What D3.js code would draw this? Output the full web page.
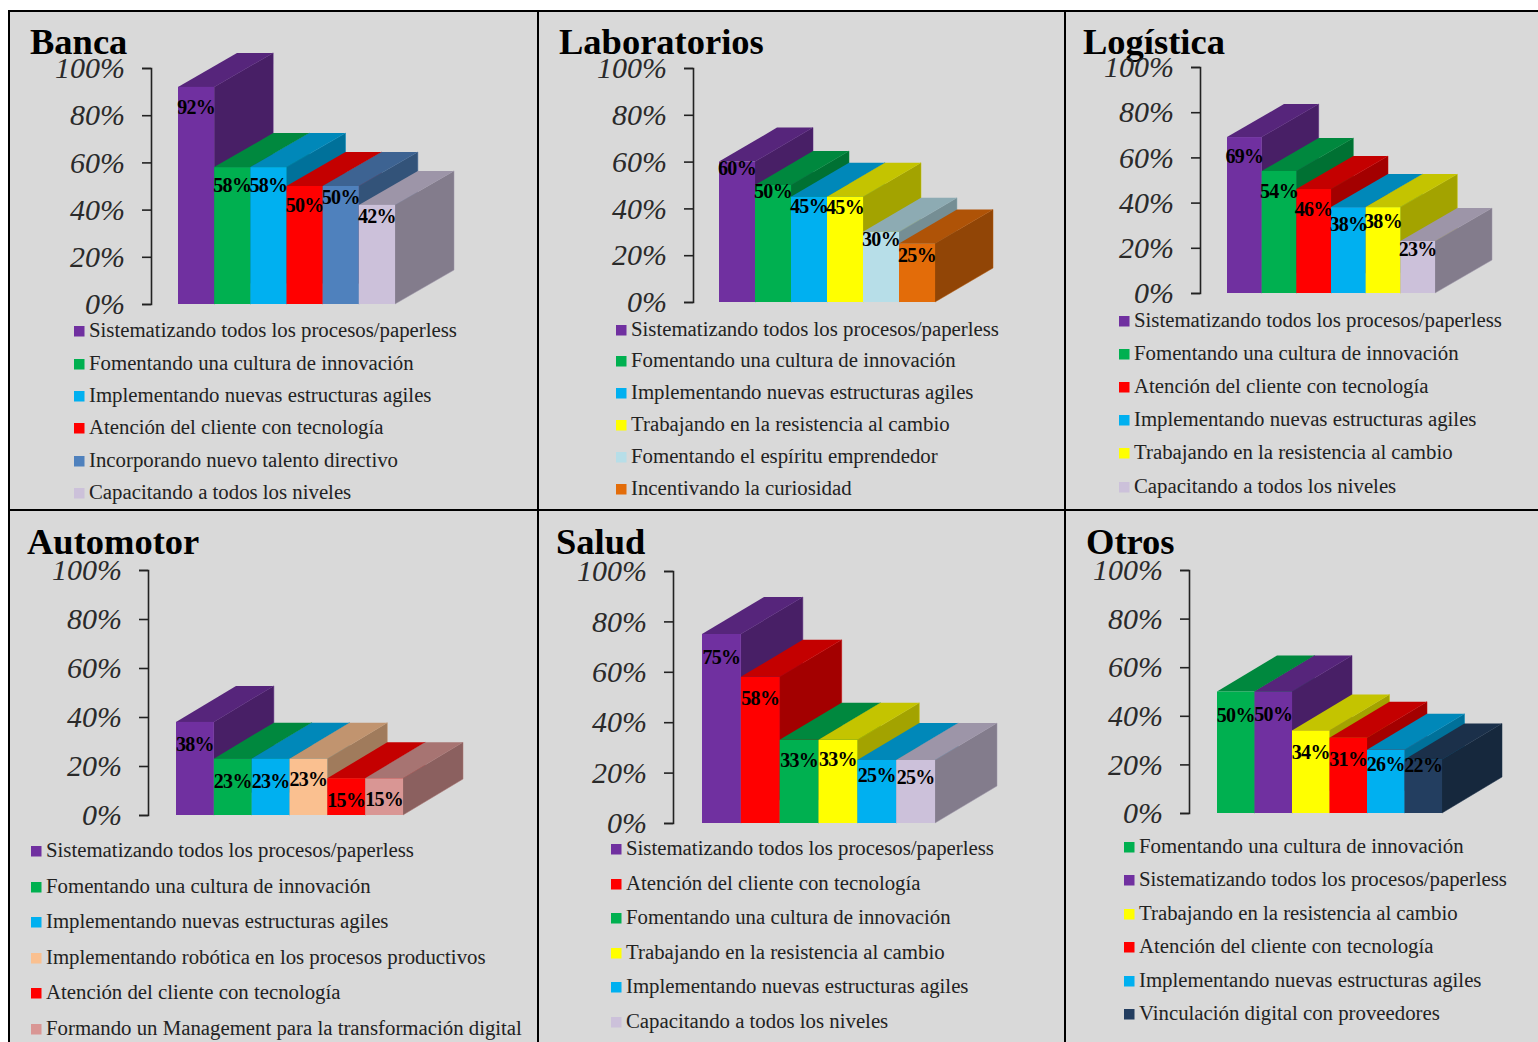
<!DOCTYPE html>
<html lang="es">
<head>
<meta charset="utf-8">
<script src="https://cdn.jsdelivr.net/npm/d3@7"></script>
<style>
html,body{margin:0;padding:0;background:#fff;}
svg{display:block;}
text{font-family:"Liberation Serif",serif;}
</style>
</head>
<body>
<svg id="chart" width="1538" height="1042"></svg>
<script>
// ---- Data ----
const tickValues = [0, 20, 40, 60, 80, 100];

const bancaCategories = ["Sistematizando todos los procesos/paperless","Fomentando una cultura de innovación","Implementando nuevas estructuras agiles","Atención del cliente con tecnología","Incorporando nuevo talento directivo","Capacitando a todos los niveles"];
const bancaValues = [92, 58, 58, 50, 50, 42];

const laboratoriosCategories = ["Sistematizando todos los procesos/paperless","Fomentando una cultura de innovación","Implementando nuevas estructuras agiles","Trabajando en la resistencia al cambio","Fomentando el espíritu emprendedor","Incentivando la curiosidad"];
const laboratoriosValues = [60, 50, 45, 45, 30, 25];

const logisticaCategories = ["Sistematizando todos los procesos/paperless","Fomentando una cultura de innovación","Atención del cliente con tecnología","Implementando nuevas estructuras agiles","Trabajando en la resistencia al cambio","Capacitando a todos los niveles"];
const logisticaValues = [69, 54, 46, 38, 38, 23];

const automotorCategories = ["Sistematizando todos los procesos/paperless","Fomentando una cultura de innovación","Implementando nuevas estructuras agiles","Implementando robótica en los procesos productivos","Atención del cliente con tecnología","Formando un Management para la transformación digital"];
const automotorValues = [38, 23, 23, 23, 15, 15];

const saludCategories = ["Sistematizando todos los procesos/paperless","Atención del cliente con tecnología","Fomentando una cultura de innovación","Trabajando en la resistencia al cambio","Implementando nuevas estructuras agiles","Capacitando a todos los niveles"];
const saludValues = [75, 58, 33, 33, 25, 25];

const otrosCategories = ["Fomentando una cultura de innovación","Sistematizando todos los procesos/paperless","Trabajando en la resistencia al cambio","Atención del cliente con tecnología","Implementando nuevas estructuras agiles","Vinculación digital con proveedores"];
const otrosValues = [50, 50, 34, 31, 26, 22];

// ---- Styles ----
const categoryColors = new Map([
  ["Sistematizando todos los procesos/paperless", "#7030a0"],
  ["Fomentando una cultura de innovación", "#00b050"],
  ["Implementando nuevas estructuras agiles", "#00b0f0"],
  ["Atención del cliente con tecnología", "#ff0000"],
  ["Incorporando nuevo talento directivo", "#4f81bd"],
  ["Capacitando a todos los niveles", "#ccc1da"],
  ["Trabajando en la resistencia al cambio", "#ffff00"],
  ["Fomentando el espíritu emprendedor", "#b7dee8"],
  ["Incentivando la curiosidad", "#e36c09"],
  ["Implementando robótica en los procesos productivos", "#fac090"],
  ["Formando un Management para la transformación digital", "#d99694"],
  ["Vinculación digital con proveedores", "#233e60"]
]);

// ---- Layout ----
const panels = [
  {title:"Banca", cats:bancaCategories, vals:bancaValues, tx:30, ty:54, ax:151, y100:68, y0:304, bx0:178, bx1:395, dx:59, dy:34,
   nudge:[21,18,18,19,11,12], lx:74, legY:[331,364,396,428,461,493]},
  {title:"Laboratorios", cats:laboratoriosCategories, vals:laboratoriosValues, tx:559, ty:54, ax:693, y100:68, y0:302, bx0:719, bx1:935, dx:58, dy:34,
   nudge:[7,6,10,11,8,12], lx:616, legY:[330,361,393,425,457,489]},
  {title:"Logística", cats:logisticaCategories, vals:logisticaValues, tx:1083, ty:54, ax:1200, y100:67, y0:293, bx0:1227, bx1:1435, dx:57, dy:33,
   nudge:[19,20,20,17,14,8], lx:1119, legY:[321,354,387,420,453,487]},
  {title:"Automotor", cats:automotorCategories, vals:automotorValues, tx:27, ty:554, ax:148, y100:570, y0:815, bx0:176, bx1:403, dx:60, dy:36,
   nudge:[22,23,23,21,22,21], lx:31, legY:[851,887,922,958,993,1029]},
  {title:"Salud", cats:saludCategories, vals:saludValues, tx:556, ty:554, ax:673, y100:571, y0:823, bx0:702, bx1:935, dx:62, dy:37,
   nudge:[23,22,21,20,15,17], lx:611, legY:[849,884,918,953,987,1022]},
  {title:"Otros", cats:otrosCategories, vals:otrosValues, tx:1086, ty:554, ax:1189, y100:570, y0:813, bx0:1217, bx1:1442, dx:60, dy:36,
   nudge:[24,23,22,22,15,6], lx:1124, legY:[847,880,914,947,981,1014]}
];

function shade(c, k) {
  const r = d3.rgb(c);
  return d3.rgb(r.r * k, r.g * k, r.b * k).formatHex();
}

const svg = d3.select("#chart");
svg.append("rect").attr("x", 9).attr("y", 11).attr("width", 1529).attr("height", 1031).attr("fill", "#d9d9d9");

// cell borders
const vLines = [9, 538, 1065];
const hLines = [11, 510];
svg.selectAll("line.v").data(vLines).join("line").attr("class", "v")
  .attr("x1", d => d).attr("x2", d => d).attr("y1", 10).attr("y2", 1042)
  .attr("stroke", "#000").attr("stroke-width", 2);
svg.selectAll("line.h").data(hLines).join("line").attr("class", "h")
  .attr("x1", 8).attr("x2", 1538).attr("y1", d => d).attr("y2", d => d)
  .attr("stroke", "#000").attr("stroke-width", 2);

panels.forEach(p => {
  const g = svg.append("g").attr("class", "panel");

  g.append("text").text(p.title).attr("x", p.tx).attr("y", p.ty)
    .attr("font-size", 36.5).attr("font-weight", "bold").attr("fill", "#000");

  const y = d3.scaleLinear().domain([0, 100]).range([p.y0, p.y100]);
  const x = d3.scaleBand().domain(d3.range(p.vals.length)).range([p.bx0, p.bx1]).padding(0);
  const w = x.bandwidth();

  const axis = d3.axisLeft(y).tickValues(tickValues).tickFormat(d => d + "%").tickSize(9).tickPadding(17);
  const ag = g.append("g").attr("transform", `translate(${p.ax},0)`).call(axis);
  ag.selectAll("path,line").attr("stroke", "#222").attr("stroke-width", 1.6);
  ag.selectAll("text").attr("font-size", 30).attr("font-style", "italic")
    .attr("font-family", '"Liberation Serif",serif').attr("fill", "#2a2a2a");

  const bars = g.selectAll("g.bar").data(p.vals).join("g").attr("class", "bar");
  const col = i => categoryColors.get(p.cats[i]);
  const edge = 0.5;

  // side face
  bars.append("path").attr("d", (v, i) => {
    const r = x(i) + w, t = y(v), b = y(0);
    return `M${r},${t}L${r + p.dx},${t - p.dy}L${r + p.dx},${b - p.dy}L${r},${b}Z`;
  }).attr("fill", (v, i) => shade(col(i), 0.64)).attr("stroke", (v, i) => shade(col(i), 0.78)).attr("stroke-width", edge);

  // top face
  bars.append("path").attr("d", (v, i) => {
    const l = x(i), r = l + w, t = y(v);
    return `M${l},${t}L${l + p.dx},${t - p.dy}L${r + p.dx},${t - p.dy}L${r},${t}Z`;
  }).attr("fill", (v, i) => shade(col(i), 0.77));

  // front face
  bars.append("rect")
    .attr("x", (v, i) => x(i)).attr("y", v => y(v))
    .attr("width", w).attr("height", v => y(0) - y(v))
    .attr("fill", (v, i) => col(i));

  // value labels above all faces
  g.selectAll("text.val").data(p.vals).join("text").attr("class", "val")
    .attr("x", (v, i) => x(i) + w / 2)
    .attr("y", (v, i) => y(v) + p.nudge[i])
    .attr("dy", "0.33em").attr("text-anchor", "middle")
    .attr("font-size", 20).attr("font-weight", "bold").attr("letter-spacing", -0.7).attr("fill", "#000")
    .text(v => v + "%");

  // legend
  const leg = g.selectAll("g.leg").data(p.cats).join("g").attr("class", "leg")
    .attr("transform", (c, i) => `translate(${p.lx},${p.legY[i]})`);
  leg.append("rect").attr("x", 0).attr("y", -5).attr("width", 10.5).attr("height", 10.5)
    .attr("fill", c => categoryColors.get(c));
  leg.append("text").attr("x", 15).attr("y", 0).attr("dy", "0.3em")
    .attr("font-size", 20.8).attr("fill", "#222").text(c => c);
});
</script>
</body>
</html>
